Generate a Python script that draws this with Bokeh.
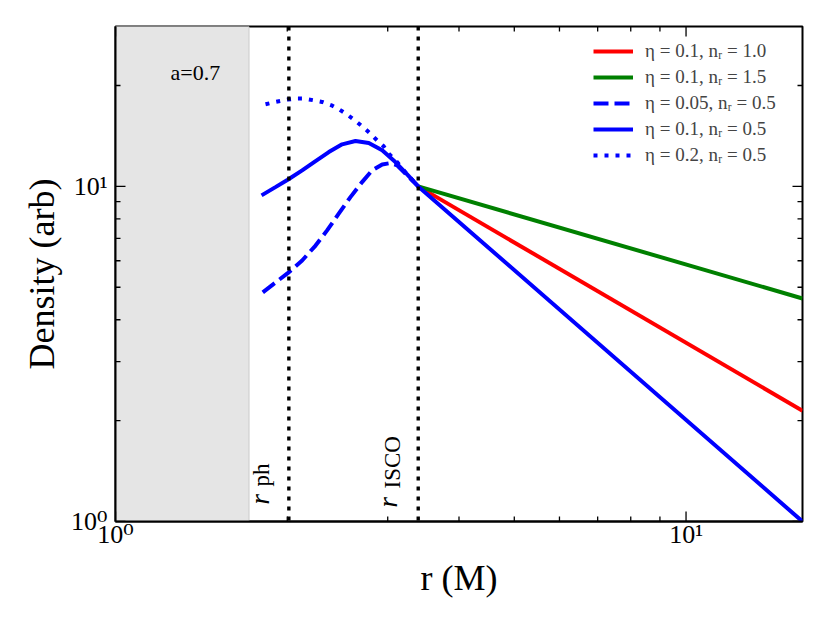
import math
from bokeh.plotting import figure
from bokeh.models import Span, Label, Legend, LegendItem, FixedTicker, Range1d
from bokeh.embed import file_html
from bokeh.resources import INLINE

# ---------------- data ----------------
x_limits = [1.0, 16.0]
y_limits = [1.0, 30.0]

x_major_ticks = [1, 10]
x_minor_ticks = [2, 3, 4, 5, 6, 7, 8, 9]
y_major_ticks = [1, 10]
y_minor_ticks = [2, 3, 4, 5, 6, 7, 8, 9, 20]
major_tick_labels = ["10⁰", "10¹"]

spin_text = "a=0.7"
r_horizon = 1.714
r_photon = 2.013
r_isco = 3.393

# eta = 0.1, plunging region (solid blue)
r_eta010 = [1.803, 1.907, 2.004, 2.124, 2.242, 2.365, 2.496, 2.634, 2.779, 2.934, 3.094, 3.245, 3.393]
rho_eta010 = [9.40, 9.95, 10.47, 11.16, 11.90, 12.66, 13.35, 13.66, 13.47, 12.81, 11.82, 10.86, 10.0]

# eta = 0.05, plunging region (dashed blue)
r_eta005 = [1.812, 1.894, 2.004, 2.124, 2.242, 2.349, 2.462, 2.581, 2.705, 2.817, 2.934, 3.033, 3.116, 3.245, 3.393]
rho_eta005 = [4.83, 5.12, 5.51, 6.01, 6.66, 7.39, 8.29, 9.29, 10.30, 11.16, 11.63, 11.74, 11.56, 10.79, 10.0]

# eta = 0.2, plunging region (dotted blue)
r_eta020 = [1.832, 1.907, 2.004, 2.067, 2.138, 2.226, 2.303, 2.391, 2.469, 2.547, 2.626, 2.706,
            2.790, 2.874, 2.952, 3.012, 3.116, 3.245, 3.393]
rho_eta020 = [17.58, 17.86, 18.16, 18.28, 18.28, 18.07, 17.86, 17.46, 16.95, 16.38, 15.75, 15.11,
              14.43, 13.72, 13.17, 12.52, 11.82, 10.86, 10.0]

# disc region (r > r_isco)
r_outer = [3.393, 16.0]
rho_outer_nr10 = [10.0, 2.14]
rho_outer_nr15 = [10.0, 4.63]
rho_outer_nr05 = [10.0, 1.0]

legend_labels = ["η = 0.1, nᵣ = 1.0", "η = 0.1, nᵣ = 1.5", "η = 0.05, nᵣ = 0.5",
                 "η = 0.1, nᵣ = 0.5", "η = 0.2, nᵣ = 0.5"]

# ---------------- figure ----------------
SERIF = "Liberation Serif, DejaVu Serif"

p = figure(x_axis_type="log", y_axis_type="log",
           x_range=Range1d(x_limits[0], x_limits[1]), y_range=Range1d(y_limits[0], y_limits[1]),
           frame_width=687, frame_height=495,
           min_border_left=115, min_border_right=24, min_border_top=26, min_border_bottom=98,
           toolbar_location=None, output_backend="svg", title=None)
p.xgrid.visible = False
p.ygrid.visible = False
p.outline_line_color = "black"
p.outline_line_width = 2
p.background_fill_color = "white"
p.border_fill_color = "white"

label_map = dict(zip(x_major_ticks, major_tick_labels))

for ax, major, minor in ((p.xaxis[0], x_major_ticks, x_minor_ticks),
                         (p.yaxis[0], y_major_ticks, y_minor_ticks)):
    ax.ticker = FixedTicker(ticks=major, minor_ticks=minor)
    ax.axis_line_color = "black"
    ax.axis_line_width = 2
    ax.major_tick_line_color = None
    ax.minor_tick_line_color = None
    ax.major_tick_in = 0
    ax.major_tick_out = 0
    ax.minor_tick_in = 0
    ax.minor_tick_out = 0
    ax.major_label_overrides = dict(label_map)
    ax.major_label_text_font = SERIF
    ax.major_label_text_font_size = "26px"
    ax.major_label_text_color = "black"
    ax.axis_label_text_font = SERIF
    ax.axis_label_text_font_size = "36px"
    ax.axis_label_text_font_style = "normal"
    ax.axis_label_text_color = "black"
    ax.axis_label_standoff = 6

p.xaxis[0].major_label_standoff = -2
p.yaxis[0].major_label_standoff = 8
p.xaxis[0].axis_label = "r (M)"
p.yaxis[0].axis_label = "Density (arb)"

# shaded region inside the horizon
p.quad(left=[x_limits[0]], right=[r_horizon], bottom=[y_limits[0]], top=[y_limits[1]],
       fill_color="#e5e5e5", line_color="#cacaca", line_width=1)

# inward ticks on all four sides
half_pi = math.pi / 2
TICK_MAJOR, TICK_MINOR = 10, 5
for ticks, length in ((x_major_ticks, TICK_MAJOR), (x_minor_ticks, TICK_MINOR)):
    n = len(ticks)
    p.ray(x=ticks, y=[y_limits[0]] * n, length=length, angle=half_pi,
          length_units="screen", line_color="black", line_width=1.3)
    p.ray(x=ticks, y=[y_limits[1]] * n, length=length, angle=-half_pi,
          length_units="screen", line_color="black", line_width=1.3)
for ticks, length in ((y_major_ticks, TICK_MAJOR), (y_minor_ticks, TICK_MINOR)):
    n = len(ticks)
    p.ray(x=[x_limits[0]] * n, y=ticks, length=length, angle=0,
          length_units="screen", line_color="black", line_width=1.3)
    p.ray(x=[x_limits[1]] * n, y=ticks, length=length, angle=math.pi,
          length_units="screen", line_color="black", line_width=1.3)

# curves
r_red = p.line(r_outer, rho_outer_nr10, line_color="red", line_width=4)
r_green = p.line(r_outer, rho_outer_nr15, line_color="green", line_width=4)
r_dash = p.line(r_eta005, rho_eta005, line_color="blue", line_width=4, line_dash="15 6")
r_solid = p.line(r_eta010 + r_outer[1:], rho_eta010 + rho_outer_nr05[1:],
                 line_color="blue", line_width=4)
r_dot = p.line(r_eta020, rho_eta020, line_color="blue", line_width=4, line_dash="4 7")

# vertical dotted markers
for loc in (r_photon, r_isco):
    p.add_layout(Span(location=loc, dimension="height", line_color="black",
                      line_width=3.4, line_dash="4 6"))

# annotations
p.add_layout(Label(x=1.38, y=21.9, text=spin_text, text_font=SERIF, text_font_size="22px",
                   text_align="center", text_baseline="middle", text_color="black"))

p.add_layout(Label(x=r_photon, y=y_limits[0], x_offset=-29, y_offset=17, text="r",
                   angle=half_pi, text_font=SERIF, text_font_style="italic",
                   text_font_size="27px", text_align="left", text_baseline="alphabetic",
                   text_color="black"))
p.add_layout(Label(x=r_photon, y=y_limits[0], x_offset=-27, y_offset=35, text="ph",
                   angle=half_pi, text_font=SERIF, text_font_size="23px",
                   text_align="left", text_baseline="alphabetic", text_color="black"))
p.add_layout(Label(x=r_isco, y=y_limits[0], x_offset=-30, y_offset=14, text="r",
                   angle=half_pi, text_font=SERIF, text_font_style="italic",
                   text_font_size="27px", text_align="left", text_baseline="alphabetic",
                   text_color="black"))
p.add_layout(Label(x=r_isco, y=y_limits[0], x_offset=-26, y_offset=33, text="ISCO",
                   angle=half_pi, text_font=SERIF, text_font_size="23px",
                   text_align="left", text_baseline="alphabetic", text_color="black"))

legend = Legend(items=[LegendItem(label=lab, renderers=[rr]) for lab, rr in
                       zip(legend_labels, [r_red, r_green, r_dash, r_solid, r_dot])],
                location=(478, 355), padding=0, spacing=4, margin=0,
                glyph_width=40, glyph_height=22, label_height=22, label_standoff=12,
                label_text_font=SERIF, label_text_font_size="19px",
                border_line_color=None, background_fill_alpha=0)
p.add_layout(legend, "center")

open("out.html", "w").write(file_html(p, INLINE))
